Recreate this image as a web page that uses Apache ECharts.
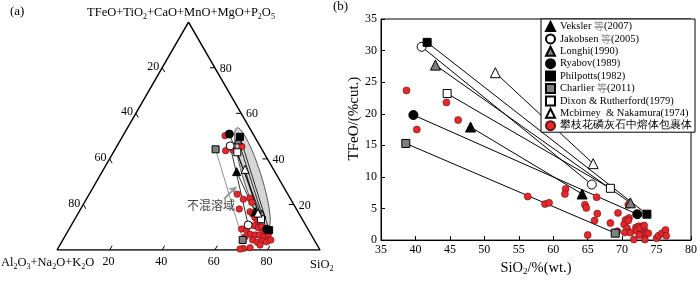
<!DOCTYPE html>
<html>
<head>
<meta charset="utf-8">
<script src="https://cdn.jsdelivr.net/npm/echarts@6/dist/echarts.min.js"></script>
<style>
  html, body { margin: 0; padding: 0; background: #fff; }
  #chart { width: 700px; height: 281px; }
</style>
</head>
<body>
<div id="chart"></div>
<script>
// ---------- (b) SiO2 vs TFeO, every experiment is a Fe-rich / Si-rich melt pair ----------
const vekslerB = [[48.0, 17.9], [64.2, 7.3]]
const jakobsenB = [[40.9, 30.6], [65.6, 8.8]]
const longhiB = [[42.9, 27.7], [71.2, 5.9]]
const ryabovB = [[39.7, 19.8], [72.2, 4.1]]
const philpottsB = [[41.7, 31.3], [73.6, 4.1]]
const charlierB = [[38.6, 15.3], [69.0, 1.1]]
const dixonB = [[44.6, 23.2], [68.3, 8.2]]
const mcbirneyB = [[51.6, 26.5], [65.8, 12.1]]
// melt inclusions in apatite, Panzhihua
const inclusionsB = [
  [38.7, 23.7], [44.5, 21.8], [46.2, 19.0], [40.2, 17.5], [56.3, 6.9], [58.8, 5.7],
  [59.4, 5.9], [61.8, 8.1], [61.7, 7.3], [64.6, 5.6], [64.8, 5.1], [66.3, 6.8],
  [66.4, 4.2], [66.0, 3.1], [68.3, 2.7], [69.4, 4.3], [69.3, 1.4], [65.0, 0.8],
  [70.5, 3.2], [71.0, 3.5], [70.9, 5.6], [70.3, 2.5], [70.7, 1.9], [70.4, 1.2],
  [71.2, 1.2], [70.9, 3.1], [71.7, 0.1], [72.0, 2.0], [72.4, 2.2], [73.0, 2.2],
  [72.1, 1.5], [72.7, 1.2], [73.2, 1.6], [73.4, 0.9], [73.8, 1.1], [72.5, 0.8],
  [73.3, 0.1], [75.0, 0.3], [75.3, 0.7], [75.8, 1.1], [76.3, 1.6], [76.4, 0.7],
  [72.6, 1.9], [73.2, 2.3]
]

// ---------- (a) ternary: [SiO2, TFeO+TiO2+CaO+MnO+MgO+P2O5], rest = Al2O3+Na2O+K2O ----------
const vekslerA = [[51.1, 34.4], [66.9, 16.8]]
const jakobsenA = [[43.0, 45.7], [67.2, 11.0]]
const longhiA = [[44.7, 48.3], [70.0, 15.8]]
const ryabovA = [[40.1, 50.9], [75.2, 9.1]]
const philpottsA = [[44.7, 49.7], [76.3, 8.7]]
const charlierA = [[38.2, 44.2], [68.4, 4.4]]
const dixonA = [[47.1, 42.9], [70.8, 13.5]]
const mcbirneyA = [[53.8, 35.4], [68.3, 16.2]]
const inclusionsA = [
  [38.8, 50.2], [42.3, 43.6], [44.9, 43.9], [47.6, 45.4], [56.3, 24.5], [59.7, 22.3],
  [62.0, 22.7], [63.6, 20.9], [60.3, 18.0], [65.0, 16.8], [66.6, 15.7], [68.2, 14.2],
  [70.0, 12.4], [69.6, 10.7], [71.6, 9.8], [72.7, 10.2], [74.4, 8.0], [65.6, 9.2],
  [67.7, 8.8], [70.0, 6.9], [72.0, 6.6], [73.6, 6.6], [75.8, 5.8], [77.0, 6.6],
  [68.6, 5.8], [72.2, 4.4], [74.5, 3.4], [75.8, 4.0], [77.9, 3.6], [79.1, 4.4],
  [76.1, 2.2], [70.5, 0.7], [72.9, 1.0], [69.4, 0.4]
]
// immiscibility field: the two ends of its long axis
const fieldEnds = [[41.6, 53.6], [75.4, 9.7]]
const arrowEnds = [[52.3, 22.4], [54.3, 27.7]]
const ternaryCorners = [[0, 0], [100, 0], [0, 100], [0, 0]]
const ternaryTicks = [20, 40, 60, 80]

const serif = '"Liberation Serif", "Times New Roman", serif'
const cjk = '"Noto Sans CJK SC", sans-serif'
const inclusionName = '攀枝花磷灰石中熔体包裹体'

const sets = [
  { name: 'Veksler 等(2007)', a: vekslerA, b: vekslerB, symbol: 'triangle', fill: '#000' },
  { name: 'Jakobsen 等(2005)', a: jakobsenA, b: jakobsenB, symbol: 'circle', fill: '#fff' },
  { name: 'Longhi(1990)', a: longhiA, b: longhiB, symbol: 'triangle', fill: '#808080' },
  { name: 'Ryabov(1989)', a: ryabovA, b: ryabovB, symbol: 'circle', fill: '#000' },
  { name: 'Philpotts(1982)', a: philpottsA, b: philpottsB, symbol: 'rect', fill: '#000' },
  { name: 'Charlier 等(2011)', a: charlierA, b: charlierB, symbol: 'rect', fill: '#808080' },
  { name: 'Dixon & Rutherford(1979)', a: dixonA, b: dixonB, symbol: 'rect', fill: '#fff' },
  { name: 'Mcbirney  & Nakamura(1974)', a: mcbirneyA, b: mcbirneyB, symbol: 'triangle', fill: '#fff' }
]
const sizeB = { triangle: 10, circle: 9, rect: 8 }
const sizeA = { triangle: 8, circle: 8, rect: 7 }

// ternary -> cartesian (side = 100)
function tern(p) {
  return [p[0] + p[1] / 2, p[1] * Math.sqrt(3) / 2]
}

const tickItems = []
ternaryTicks.forEach(v => {
  tickItems.push({ side: 'bottom', v: v, p: [v, 0] })
  tickItems.push({ side: 'left', v: v, p: [0, 100 - v] })
  tickItems.push({ side: 'right', v: v, p: [100 - v, v] })
})

function renderTick(params, api) {
  const t = tickItems[params.dataIndex]
  const c = api.coord(tern(t.p))
  let d, tx, ty, align
  if (t.side === 'bottom') {
    d = [2.5, -4.3]; tx = c[0] - 1; ty = c[1] + 12; align = 'center'
  } else if (t.side === 'left') {
    d = [2.5, 4.3]; tx = c[0] - 3; ty = c[1] - 1; align = 'right'
  } else {
    d = [-5, 0]; tx = c[0] + 5; ty = c[1] + 1; align = 'left'
  }
  return {
    type: 'group',
    children: [
      { type: 'line', shape: { x1: c[0], y1: c[1], x2: c[0] + d[0], y2: c[1] + d[1] },
        style: { stroke: '#000', lineWidth: 1 } },
      { type: 'text', x: tx, y: ty,
        style: { text: String(t.v), fill: '#000', font: '12px ' + serif, align: align, verticalAlign: 'middle' } }
    ]
  }
}

function renderField(params, api) {
  const p1 = api.coord(tern(fieldEnds[0]))
  const p2 = api.coord(tern(fieldEnds[1]))
  const cx = (p1[0] + p2[0]) / 2, cy = (p1[1] + p2[1]) / 2
  const dx = p2[0] - p1[0], dy = p2[1] - p1[1]
  const len = Math.hypot(dx, dy)
  const ux = dx / len, uy = dy / len
  const a = len / 2, b = 9
  const pts = []
  for (let i = 0; i < 90; i++) {
    const t = i / 90 * Math.PI * 2
    pts.push([cx + ux * a * Math.cos(t) - uy * b * Math.sin(t),
              cy + uy * a * Math.cos(t) + ux * b * Math.sin(t)])
  }
  return { type: 'polygon', shape: { points: pts }, style: { fill: '#d6d6d6', stroke: '#555', lineWidth: 1 } }
}

const subRich = {
  sub: { fontSize: 8, fontFamily: serif, verticalAlign: 'bottom', lineHeight: 9 }
}
const subRichBig = {
  sub: { fontSize: 9, fontFamily: serif, verticalAlign: 'bottom', lineHeight: 10 }
}

const series = []

// ---- panel (a)
series.push({
  type: 'custom', xAxisIndex: 0, yAxisIndex: 0, silent: true, z: 1,
  data: [tern(fieldEnds[0])], renderItem: renderField
})
series.push({
  type: 'line', xAxisIndex: 0, yAxisIndex: 0, silent: true, z: 2,
  data: ternaryCorners.map(tern), symbol: 'none',
  lineStyle: { color: '#000', width: 1.5 }
})
series.push({
  type: 'custom', xAxisIndex: 0, yAxisIndex: 0, silent: true, z: 2,
  data: tickItems.map(t => tern(t.p)), renderItem: renderTick
})
series.push({
  type: 'lines', coordinateSystem: 'cartesian2d', xAxisIndex: 0, yAxisIndex: 0, silent: true, z: 3,
  data: sets.map(s => ({
    coords: s.a.map(tern),
    lineStyle: { color: s.name.indexOf('Charlier') === 0 ? '#777' : '#000' }
  })),
  lineStyle: { width: 0.8, opacity: 1 }
})
series.push({
  type: 'lines', coordinateSystem: 'cartesian2d', xAxisIndex: 0, yAxisIndex: 0, silent: true, z: 3,
  data: [{ coords: arrowEnds.map(tern) }],
  symbol: ['none', 'arrow'], symbolSize: 7,
  lineStyle: { color: '#9a9a9a', width: 2, opacity: 1 }
})
series.push({
  name: inclusionName, type: 'scatter', xAxisIndex: 0, yAxisIndex: 0, z: 4,
  data: inclusionsA.map(tern), symbol: 'circle', symbolSize: 6.5,
  itemStyle: { color: '#e8262b', borderColor: '#5a1515', borderWidth: 0.6, opacity: 1 }
})

// ---- panel (b)
series.push({
  type: 'lines', coordinateSystem: 'cartesian2d', xAxisIndex: 1, yAxisIndex: 1, silent: true, z: 3,
  data: sets.map(s => ({ coords: s.b })),
  lineStyle: { color: '#000', width: 1, opacity: 1 }
})
series.push({
  name: inclusionName, type: 'scatter', xAxisIndex: 1, yAxisIndex: 1, z: 4,
  data: inclusionsB, symbol: 'circle', symbolSize: 7,
  itemStyle: { color: '#e8262b', borderColor: '#5a1515', borderWidth: 0.6, opacity: 1 }
})
sets.forEach(s => {
  series.push({
    name: s.name, type: 'scatter', xAxisIndex: 1, yAxisIndex: 1, z: 5,
    data: s.b, symbol: s.symbol, symbolSize: sizeB[s.symbol],
    itemStyle: { color: s.fill, borderColor: '#000', borderWidth: 1, opacity: 1 }
  })
  series.push({
    name: s.name, type: 'scatter', xAxisIndex: 0, yAxisIndex: 0, z: 5,
    data: s.a.map(tern), symbol: s.symbol, symbolSize: sizeA[s.symbol],
    itemStyle: { color: s.fill, borderColor: '#000', borderWidth: 1, opacity: 1 }
  })
})

const chart = echarts.init(document.getElementById('chart'), null, { renderer: 'canvas' })
chart.setOption({
  animation: false,
  backgroundColor: '#fff',
  grid: [
    { left: 57, top: 22.2, width: 263, height: 227.8 },
    { left: 381, right: 5, top: 19, bottom: 34, show: true, borderColor: '#000', borderWidth: 1 }
  ],
  xAxis: [
    { gridIndex: 0, type: 'value', min: 0, max: 100, show: false },
    {
      gridIndex: 1, type: 'value', min: 35, max: 80, interval: 5,
      name: 'SiO{sub|2}/%(wt.)', nameLocation: 'middle', nameGap: 18,
      nameTextStyle: { fontFamily: serif, fontSize: 14.5, color: '#000', rich: subRichBig },
      axisLine: { lineStyle: { color: '#000', width: 1 } },
      axisTick: { inside: true, length: 4, lineStyle: { color: '#000' } },
      axisLabel: { fontFamily: serif, fontSize: 12, color: '#000', margin: 4 },
      splitLine: { show: false }
    }
  ],
  yAxis: [
    { gridIndex: 0, type: 'value', min: 0, max: 86.6025, show: false },
    {
      gridIndex: 1, type: 'value', min: 0, max: 35, interval: 5,
      name: 'TFeO/(%cut.)', nameLocation: 'middle', nameGap: 19, nameRotate: 90,
      nameTextStyle: { fontFamily: serif, fontSize: 15, color: '#000', padding: [0, 0, 0, 22] },
      axisLine: { lineStyle: { color: '#000', width: 1 } },
      axisTick: { inside: true, length: 4, lineStyle: { color: '#000' } },
      axisLabel: { fontFamily: serif, fontSize: 12, color: '#000', margin: 4 },
      splitLine: { show: false }
    }
  ],
  legend: {
    data: sets.map(s => s.name).concat([inclusionName]),
    orient: 'vertical', right: 5, top: 19,
    itemWidth: 9, itemHeight: 9, itemGap: 1.4,
    padding: [2, 3, 1, 4],
    borderColor: '#000', borderWidth: 1, backgroundColor: '#fff',
    selectedMode: false,
    formatter: n => n.replace('等', '{g|等}'),
    textStyle: {
      fontFamily: serif, fontSize: 10.5, color: '#000',
      rich: { g: { fontFamily: cjk, fontSize: 10, color: '#8a8a8a' } }
    }
  },
  graphic: [
    { type: 'text', left: 10, top: 5, style: { text: '(a)', font: '13px ' + serif, fill: '#000' } },
    { type: 'text', left: 333, top: 0, style: { text: '(b)', font: '13px ' + serif, fill: '#000' } },
    {
      type: 'text', x: 181, y: 13,
      style: {
        text: 'TFeO+TiO{sub|2}+CaO+MnO+MgO+P{sub|2}O{sub|5}', font: '12.5px ' + serif, fill: '#000',
        align: 'center', verticalAlign: 'middle', lineHeight: 15, rich: subRich
      }
    },
    {
      type: 'text', x: 1, y: 263,
      style: {
        text: 'Al{sub|2}O{sub|3}+Na{sub|2}O+K{sub|2}O', font: '12.5px ' + serif, fill: '#000',
        align: 'left', verticalAlign: 'middle', lineHeight: 15, rich: subRich
      }
    },
    {
      type: 'text', x: 310, y: 265,
      style: {
        text: 'SiO{sub|2}', font: '12.5px ' + serif, fill: '#000',
        align: 'left', verticalAlign: 'middle', lineHeight: 15, rich: subRich
      }
    },
    {
      type: 'text', x: 211, y: 205, z: 10,
      style: { text: '不混溶域', font: '12px ' + cjk, fill: '#444', align: 'center', verticalAlign: 'middle' }
    }
  ],
  series: series
})
window.addEventListener('resize', () => {
  chart.resize()
})
</script>
</body>
</html>
